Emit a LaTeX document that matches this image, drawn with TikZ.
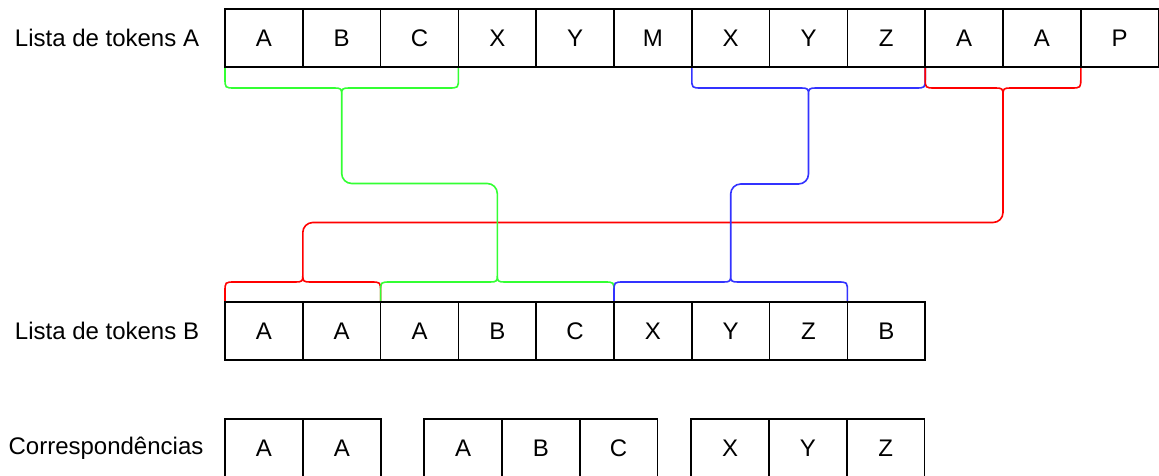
\documentclass[tikz,border=0pt]{standalone}
\usepackage{fontspec}
\setmainfont{Liberation Sans}
\usetikzlibrary{calc}
\pgfdeclarelayer{behind}
\pgfsetlayers{behind,main}
\definecolor{lgreen}{HTML}{33FF33}
\definecolor{lblue}{HTML}{3333FF}
\definecolor{lred}{HTML}{FF0000}

% brace hanging below a row of cells: #1 colour, #2 left end, #3 right end, #4 tip name
\newcommand\bracebelow[4]{%
  \coordinate (#4) at ($(#2)!0.5!(#3)+(0,27)$);
  \draw[bracestroke,#1] (#2) -- ++(0,11) .. controls +(0,10) .. ++(10,10)
    -- ($(#4)+(-7,-6)$) .. controls +(6,0) and +(0,-5) .. (#4)
    .. controls +(0,-5) and +(-6,0) .. ($(#4)+(7,-6)$)
    -- ($(#3)+(-10,21)$) .. controls +(10,0) .. ++(10,-10) -- (#3);
}
% brace standing above a row of cells
\newcommand\braceabove[4]{%
  \coordinate (#4) at ($(#2)!0.5!(#3)+(0,-26)$);
  \draw[bracestroke,#1] (#2) -- ++(0,-10) .. controls +(0,-10) .. ++(10,-10)
    -- ($(#4)+(-7,6)$) .. controls +(6,0) and +(0,5) .. (#4)
    .. controls +(0,5) and +(-6,0) .. ($(#4)+(7,6)$)
    -- ($(#3)+(-10,-20)$) .. controls +(10,0) .. ++(10,10) -- (#3);
}

\begin{document}
\begin{tikzpicture}[x=1pt,y=-1pt,
  txt/.style={font=\fontsize{24}{28}\selectfont},
  cell/.style={txt, draw, line width=1.6pt, minimum width=77.8pt,
    minimum height=58pt, inner sep=0pt, outer sep=0pt},
  rowlabel/.style={txt, inner sep=0pt},
  bracestroke/.style={line width=1.6pt},
  link/.style={line width=1.6pt, rounded corners=10pt}]

\useasboundingbox (0,0) rectangle (1159,476);
\clip (0,0) rectangle (1159,476);

% row labels
\node[rowlabel] (la) at (107,38) {Lista de tokens A};
\node[rowlabel] (lb) at (107,331) {Lista de tokens B};
\node[rowlabel] (lc) at (106,448) {Correspondências};

% token list A
\foreach \t [count=\i] in {A,B,C,X,Y,M,X,Y,Z,A,A,P}
  \node[cell] (a\i) at ({225+77.8*(\i-0.5)},38) {\t};

% token list B
\foreach \t [count=\i] in {A,A,A,B,C,X,Y,Z,B}
  \node[cell] (b\i) at ({225+77.8*(\i-0.5)},331) {\t};

% matches
\node[cell] (c1) at (264,448) {A};
\node[cell] (c2) at (341.8,448) {A};
\node[cell] (c3) at (463,448) {A};
\node[cell] (c4) at (540.8,448) {B};
\node[cell] (c5) at (618.6,448) {C};
\node[cell] (c6) at (730,448) {X};
\node[cell] (c7) at (807.8,448) {Y};
\node[cell] (c8) at (885.6,448) {Z};

\begin{pgfonlayer}{behind}
% braces grouping the matched runs
\bracebelow{lgreen}{a1.south west}{a3.south east}{gtop}
\bracebelow{lblue}{a7.south west}{a9.south east}{btop}
\bracebelow{lred}{a10.south west}{a11.south east}{rtop}
\braceabove{lred}{b1.north west}{b2.north east}{rbot}
\braceabove{lgreen}{b3.north west}{b5.north east}{gbot}
\braceabove{lblue}{b6.north west}{b8.north east}{bbot}

% routing heights of the links
\coordinate (gy) at (0,183.5);
\coordinate (by) at (0,184);
\coordinate (ry) at (0,222.5);

% links between matched runs
\draw[link,lred] (rtop) |- (rbot |- ry) -- (rbot);
\draw[link,lgreen] (gtop) |- (gbot |- gy) -- (gbot);
\draw[link,lblue] (btop) |- (bbot |- by) -- (bbot);
\end{pgfonlayer}
\end{tikzpicture}
\end{document}
